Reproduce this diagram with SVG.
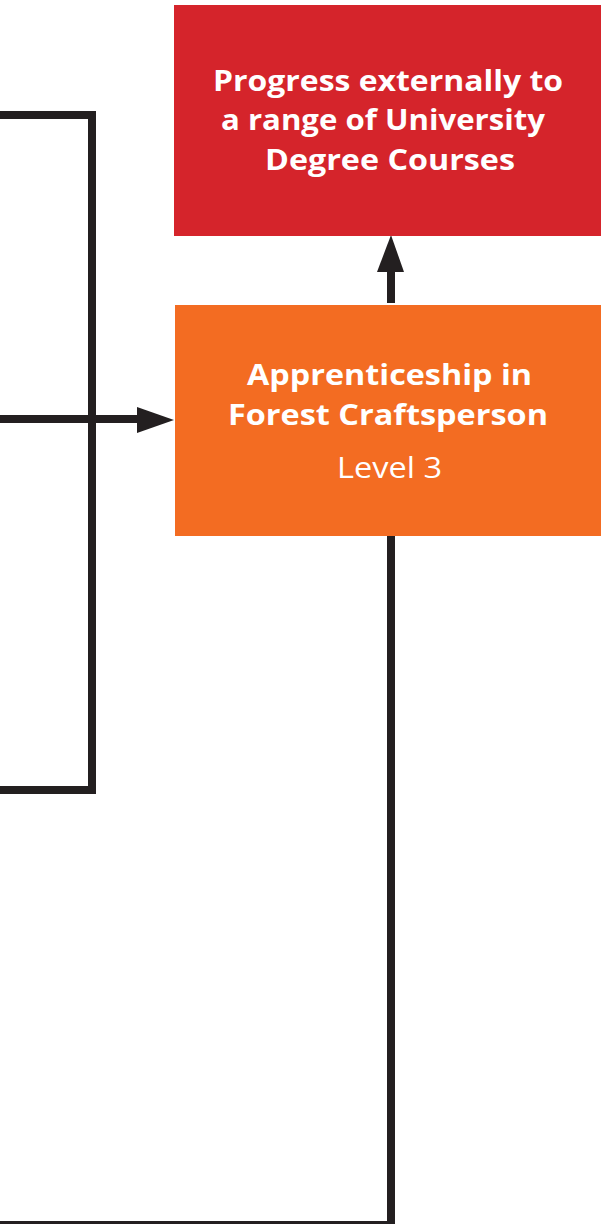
<svg xmlns="http://www.w3.org/2000/svg" width="601" height="1224" viewBox="0 0 601 1224">
<style>
.t{font-family:"Open Sans","Noto Sans","Liberation Sans",sans-serif;fill:#ffffff;text-anchor:middle}
.b{font-weight:700;font-size:29px}
.r{font-weight:400;font-size:29px}
.ln{fill:none;stroke:#231f20;stroke-width:8}
</style>
<rect width="601" height="1224" fill="#ffffff"/>
<g id="connectors">
<polyline class="ln" points="-5,115 92,115 92,790 -5,790"/>
<line class="ln" x1="-5" y1="419" x2="140" y2="419"/>
<polygon points="174,420 137,407 137,433" fill="#231f20"/>
<line class="ln" x1="391" y1="303" x2="391" y2="268"/>
<polygon points="391,235 377,272 404,272" fill="#231f20"/>
<polyline class="ln" points="391,536 391,1225 -5,1225"/>
</g>
<g id="node-university">
<rect x="174" y="5" width="427" height="231" fill="#d5242b"/>
<text class="t b" x="388" y="91" textLength="350" lengthAdjust="spacingAndGlyphs">Progress externally to</text>
<text class="t b" x="383" y="130" textLength="324" lengthAdjust="spacingAndGlyphs">a range of University</text>
<text class="t b" x="390" y="170" textLength="250" lengthAdjust="spacingAndGlyphs">Degree Courses</text>
</g>
<g id="node-apprenticeship">
<rect x="175" y="305" width="426" height="231" fill="#f36c22"/>
<text class="t b" x="389.5" y="385" textLength="285" lengthAdjust="spacingAndGlyphs">Apprenticeship in</text>
<text class="t b" x="388" y="425" textLength="320" lengthAdjust="spacingAndGlyphs">Forest Craftsperson</text>
<text class="t r" x="389.5" y="478" textLength="105" lengthAdjust="spacingAndGlyphs">Level 3</text>
</g>
</svg>
